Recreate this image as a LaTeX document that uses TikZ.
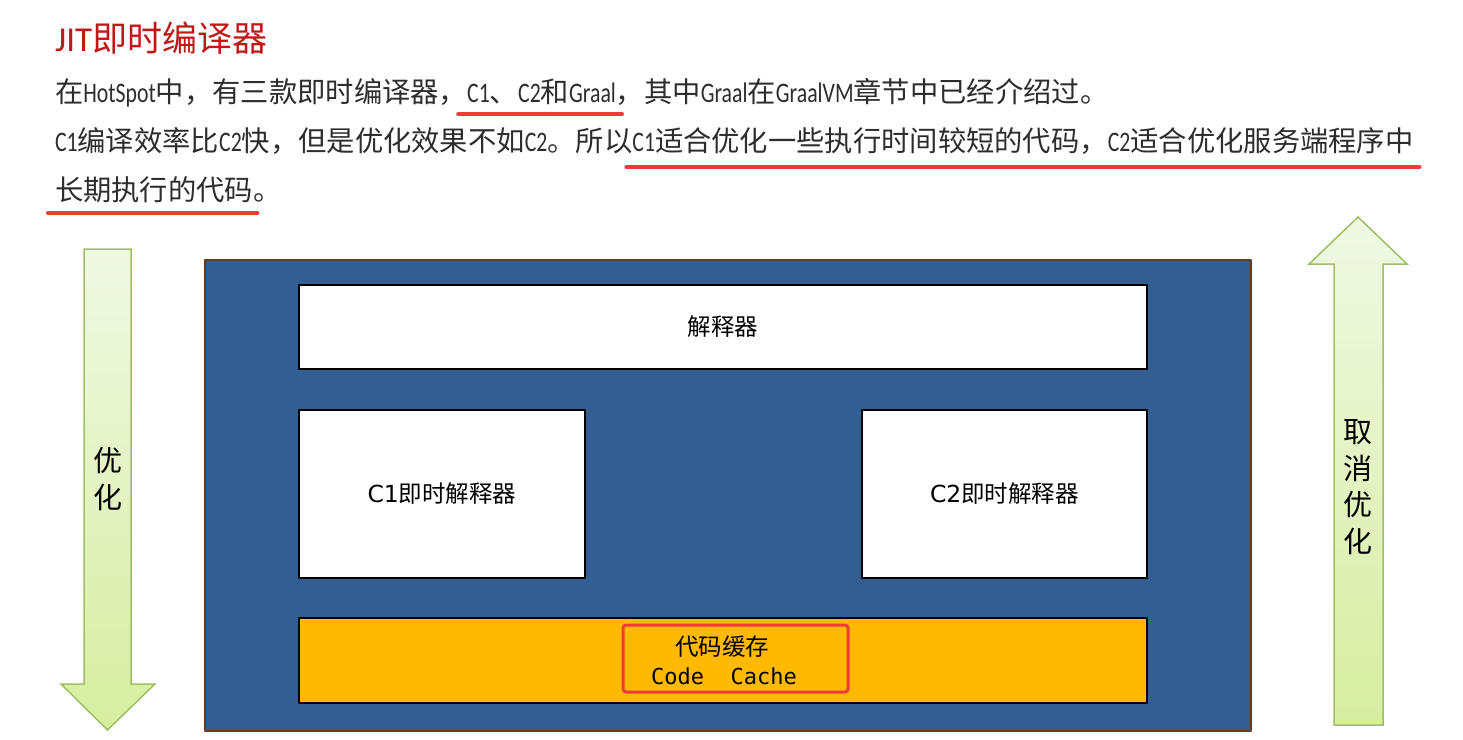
\documentclass[tikz,border=0pt]{standalone}
\usepackage{fontspec}
\setmainfont{Noto Sans CJK SC}
\newfontfamily\latfont[Scale=1.0,FakeStretch=0.77,Numbers=Lining]{Carlito}
\newfontfamily\titlelat[Numbers=Lining]{Carlito}
\newfontfamily\boxlat{DejaVu Sans}
\newfontfamily\codefont{DejaVu Sans Mono}
\newcommand\la[1]{{\latfont #1}}

\definecolor{titlered}{RGB}{192,24,24}
\definecolor{txtgray}{RGB}{45,45,45}
\definecolor{ulred}{RGB}{240,58,58}
\definecolor{jvmblue}{RGB}{50,94,146}
\definecolor{jvmbrown}{RGB}{100,60,30}
\definecolor{cacheyellow}{RGB}{255,185,0}
\definecolor{arrowtop}{RGB}{240,248,228}
\definecolor{arrowbottom}{RGB}{214,238,160}
\definecolor{arrowedge}{RGB}{160,190,100}

\tikzset{
  bodytxt/.style={anchor=base west,inner sep=0pt,outer sep=0pt,text=txtgray,font=\fontsize{28.3}{34}\selectfont},
  uline/.style={draw=ulred,line width=4pt,line cap=round},
  whitebox/.style={draw=black,line width=2.5pt,fill=white,inner sep=0pt,font=\fontsize{23.5}{28}\selectfont},
  arrowtxt/.style={align=center,inner sep=0pt,font=\fontsize{29}{36.5}\selectfont},
  bigarrow/.style={draw=arrowedge,line width=1.5pt,top color=arrowtop,bottom color=arrowbottom,line join=miter}
}

\begin{document}
\begin{tikzpicture}[x=1pt, y=-1pt, line join=round]

  %% ════ 标题 + 正文三行 ════
  \node[anchor=west,inner sep=0pt,text=titlered,font=\fontsize{35}{42}\selectfont] (title) at (55,38)
    {{\titlelat JIT}即时编译器};

  \node[bodytxt] (l1a) at (55,102) {在\la{HotSpot}中，有三款即时编译器，};
  \node[bodytxt] (l1b) at (l1a.base east) {\la{C1}、\la{C2}和\la{Graal}};
  \node[bodytxt] (l1c) at (l1b.base east) {，其中\la{Graal}在\la{GraalVM}章节中已经介绍过。};

  \node[bodytxt] (l2a) at (55,151) {\la{C1}编译效率比\la{C2}快，但是优化效果不如\la{C2}。所以};
  \node[bodytxt] (l2b) at (l2a.base east) {\la{C1}适合优化一些执行时间较短的代码，\la{C2}适合优化服务端程序中};

  \node[bodytxt] (l3) at (55,200) {长期执行的代码。};

  %% 红色下划线
  \draw[uline] ([shift={(-9,12)}]l1b.base west) -- ([shift={(6,12)}]l1b.base east);
  \draw[uline] ([shift={(-6,16)}]l2b.base west) -- ([shift={(6,16)}]l2b.base east);
  \draw[uline] ([shift={(-7,13)}]l3.base west) -- ([shift={(-24,13)}]l3.base east);

  %% ════ 左右两支箭头 ════
  \path[bigarrow] (84,249) -- (131,249) -- (131,684) -- (155,684) -- (107.5,730)
    -- (61,684) -- (84,684) -- cycle;
  \path[bigarrow] (1334,725) -- (1383,725) -- (1383,264) -- (1407,264) -- (1358,217)
    -- (1309,264) -- (1334,264) -- cycle;
  \node[arrowtxt] (opt) at (107.5,479) {优\\化};
  \node[arrowtxt] (deopt) at (1358,487) {取\\消\\优\\化};

  %% ════ JVM 大框 ════
  \node[draw=jvmbrown,line width=2.5pt,fill=jvmblue,minimum width=1046,minimum height=471,inner sep=0pt]
    (jvm) at (728,495.5) {};

  \node[whitebox,minimum width=848,minimum height=84] (interp) at (723,327) {解释器};
  \node[whitebox,minimum width=286,minimum height=168] (c1) at (442,494) {{\boxlat C1}即时解释器};
  \node[whitebox,minimum width=285,minimum height=168] (c2) at (1004.5,494) {{\boxlat C2}即时解释器};

  \node[whitebox,fill=cacheyellow,minimum width=848,minimum height=85] (cache) at (723,660.5) {};
  \node[inner sep=0pt,font=\fontsize{23.5}{28}\selectfont] (cachecn) at (722,647) {代码缓存};
  \node[inner sep=0pt,font=\codefont\fontsize{22}{26}\selectfont] (cacheen) at (724,676) {Code\ \ Cache};
  \node[draw=ulred,line width=3pt,rounded corners=3pt,minimum width=225,minimum height=67,inner sep=0pt]
    (mark) at (735.5,658.5) {};

  % 钉死画布
  \pgfresetboundingbox
  \path[use as bounding box] (0,0) rectangle (1463,739);
\end{tikzpicture}
\end{document}
